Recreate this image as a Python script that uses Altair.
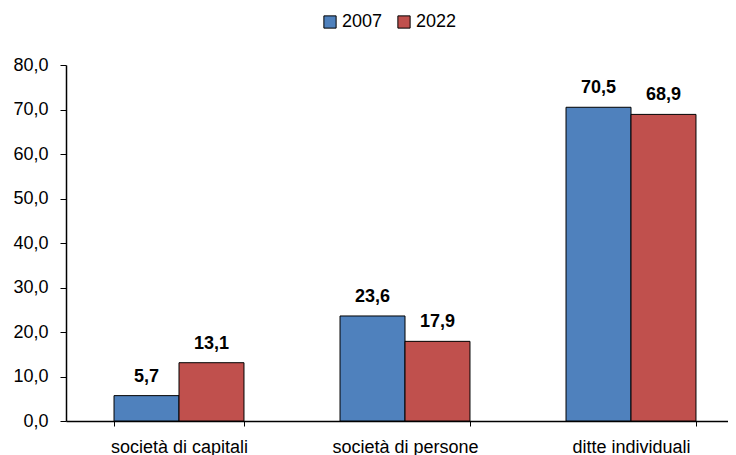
import altair as alt
import pandas as pd

categories = ["società di capitali", "società di persone", "ditte individuali"]
years = ["2007", "2022"]
values_2007 = [5.7, 23.6, 70.5]
values_2022 = [13.1, 17.9, 68.9]
colors = ["#4F81BD", "#C0504D"]

rows = []
for c, a, b in zip(categories, values_2007, values_2022):
    rows.append({"cat": c, "year": "2007", "v": a})
    rows.append({"cat": c, "year": "2022", "v": b})
df = pd.DataFrame(rows)

FONT = "Liberation Sans"

x = alt.X("cat:N", sort=categories, title=None,
          scale=alt.Scale(paddingInner=0.425, paddingOuter=0.2125, range=[0, 678]),
          axis=alt.Axis(labelAngle=0, tickBand="extent", domainColor="black", tickColor="black",
                        tickSize=5, labelFontSize=18, labelFont=FONT, labelColor="black",
                        labelPadding=12, grid=False))
y = alt.Y("v:Q", title=None,
          scale=alt.Scale(domain=[0, 80]),
          axis=alt.Axis(values=list(range(0, 81, 10)), labelExpr="replace(format(datum.value, '.1f'), '.', ',')",
                        domainColor="black", tickColor="black", tickSize=6, labelFontSize=18,
                        labelFont=FONT, labelColor="black", labelPadding=12, grid=False))

base = alt.Chart(df).encode(x=x, xOffset=alt.XOffset("year:N", sort=years))

bars = base.mark_bar(stroke="black", strokeWidth=1).encode(
    y=y,
    color=alt.Color("year:N", sort=years, scale=alt.Scale(domain=years, range=colors),
                    legend=alt.Legend(title=None, orient="none", legendX=255, legendY=-52,
                                      direction="horizontal", symbolType="square", symbolSize=150,
                                      symbolStrokeColor="black", symbolStrokeWidth=1,
                                      labelFontSize=18, labelFont=FONT, labelColor="black",
                                      labelOffset=3, columnPadding=12)),
)

text = base.transform_calculate(
    lbl="replace(format(datum.v, '.1f'), '.', ',')"
).mark_text(fontSize=18, fontWeight="bold", font=FONT, dy=-14, baseline="alphabetic", color="black").encode(
    y=alt.Y("v:Q", scale=alt.Scale(domain=[0, 80])),
    text="lbl:N",
)

chart = alt.layer(bars, text).properties(
    width=662, height=356,
    autosize=alt.AutoSizeParams(type="none"),
    padding={"left": 58, "top": 57, "right": 0, "bottom": 34},
).configure_view(stroke=None).configure_axis(domainWidth=1.5)

chart.save("out.html", embed_options={"renderer": "svg", "actions": False})
